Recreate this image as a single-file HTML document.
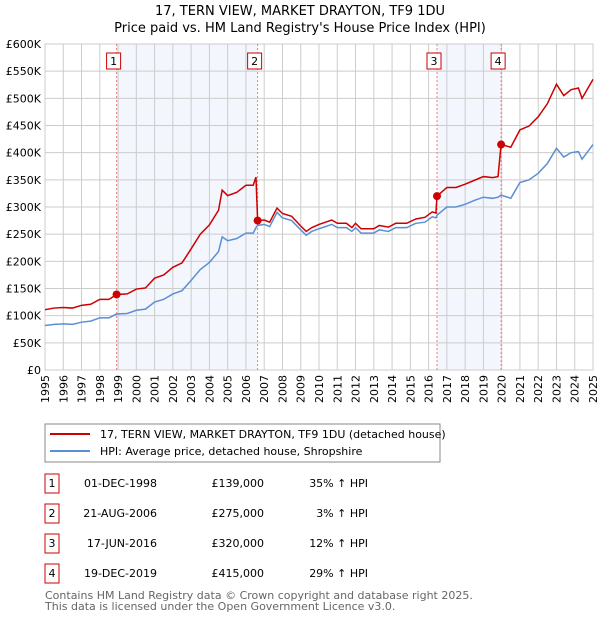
<!DOCTYPE html>
<html><head><meta charset="utf-8"><style>
body{margin:0;background:#fff;font-family:"DejaVu Sans","Liberation Sans",sans-serif;}
svg text{font-family:"DejaVu Sans","Liberation Sans",sans-serif;}
</style></head><body>
<svg id="c" width="600" height="620" xmlns="http://www.w3.org/2000/svg">
<text x="300" y="15" text-anchor="middle" font-size="13">17, TERN VIEW, MARKET DRAYTON, TF9 1DU</text>
<text x="300" y="32" text-anchor="middle" font-size="13">Price paid vs. HM Land Registry's House Price Index (HPI)</text>
<g id="plot"></g>
<rect x="45" y="424" width="395" height="38" fill="none" stroke="#888"/>
<line x1="50" y1="434" x2="90" y2="434" stroke="#cc0000" stroke-width="2"/>
<text x="100" y="438" font-size="11">17, TERN VIEW, MARKET DRAYTON, TF9 1DU (detached house)</text>
<line x1="50" y1="451" x2="90" y2="451" stroke="#5b8fd4" stroke-width="2"/>
<text x="100" y="455" font-size="11">HPI: Average price, detached house, Shropshire</text>
<g id="table" font-size="11"></g>
<text x="45" y="599" font-size="11" fill="#666">Contains HM Land Registry data © Crown copyright and database right 2025.</text>
<text x="45" y="610" font-size="11" fill="#666">This data is licensed under the Open Government Licence v3.0.</text>
</svg>
<script>
const dates=[1995.0,1995.5,1996.0,1996.5,1997.0,1997.5,1998.0,1998.5,1998.92,1999.5,2000.0,2000.5,2001.0,2001.5,2002.0,2002.5,2003.0,2003.5,2004.0,2004.5,2004.7,2005.0,2005.5,2006.0,2006.4,2006.55,2006.64,2007.0,2007.3,2007.7,2008.0,2008.5,2009.0,2009.3,2009.6,2010.0,2010.7,2011.0,2011.5,2011.8,2012.0,2012.3,2013.0,2013.3,2013.8,2014.2,2014.8,2015.3,2015.8,2016.2,2016.4,2016.46,2017.0,2017.5,2018.0,2018.5,2019.0,2019.5,2019.8,2019.97,2020.5,2021.0,2021.5,2022.0,2022.5,2023.0,2023.4,2023.8,2024.2,2024.4,2025.0];
const hpiValues=[82,84,85,84,88,90,96,96,103,104,110,112,125,130,140,146,165,185,198,218,245,238,242,252,252,262,266,268,264,290,280,275,258,248,255,260,268,262,262,255,262,252,252,258,255,262,262,270,272,282,280,285,300,300,305,312,318,316,318,322,316,345,350,362,380,408,392,400,402,388,415];
const priceValues=[111,114,115,114,119,121,130,130,139,140,149,151,169,175,189,197,223,250,267,294,331,321,327,340,340,355,275,276,272,298,288,283,265,255,262,268,276,270,270,262,270,260,260,266,263,270,270,278,281,291,289,320,336,336,342,349,356,354,356,415,410,442,449,466,490,526,505,516,519,500,535];
const saleDates=[1998.92,2006.64,2016.46,2019.97];
const salePrices=[139,275,320,415];
const saleLabels=["1","2","3","4"];
const saleDateText=["01-DEC-1998","21-AUG-2006","17-JUN-2016","19-DEC-2019"];
const salePriceText=["£139,000","£275,000","£320,000","£415,000"];
const saleHpiText=["35% ↑ HPI","3% ↑ HPI","12% ↑ HPI","29% ↑ HPI"];
const yTicks=[0,50,100,150,200,250,300,350,400,450,500,550,600];
const yTickLabels=["£0","£50K","£100K","£150K","£200K","£250K","£300K","£350K","£400K","£450K","£500K","£550K","£600K"];
const xTicks=[1995,1996,1997,1998,1999,2000,2001,2002,2003,2004,2005,2006,2007,2008,2009,2010,2011,2012,2013,2014,2015,2016,2017,2018,2019,2020,2021,2022,2023,2024,2025];

const NS="http://www.w3.org/2000/svg";
const L=45,R=593,T=44,B=370;
const xs=d=>L+(d-1995)/30*(R-L);
const ys=v=>B-v/600*(B-T);
const plot=document.getElementById('plot');
function mk(tag,attrs,parent){const e=document.createElementNS(NS,tag);for(const k in attrs)e.setAttribute(k,attrs[k]);(parent||plot).appendChild(e);return e;}

for(let i=0;i<saleDates.length;i+=2){
  const r=mk('rect',{x:xs(saleDates[i]),y:T,width:xs(saleDates[i+1])-xs(saleDates[i]),height:B-T,fill:'#f3f6fd'});
  
  
}
yTicks.forEach((v,i)=>{
  const g=mk('line',{x1:L,x2:R,y1:ys(v),y2:ys(v),stroke:'#cccccc'});
  
  
  const t=mk('text',{x:L-4,y:ys(v)+4,'text-anchor':'end','font-size':'11'});
  t.textContent=yTickLabels[i];
  
  
});
xTicks.forEach(y=>{
  const g=mk('line',{x1:xs(y),x2:xs(y),y1:T,y2:B,stroke:'#cccccc'});
  
  
  const t=mk('text',{x:0,y:0,'font-size':'11','text-anchor':'end',transform:`translate(${xs(y)+4},${B+5}) rotate(-90)`});
  t.textContent=y;
  
  
});
const ax=mk('rect',{x:L,y:T,width:R-L,height:B-T,fill:'none',stroke:'#cccccc'});


saleDates.forEach((d,i)=>{
  const l=mk('line',{x1:xs(d),x2:xs(d),y1:T,y2:B,stroke:'#e88080','stroke-dasharray':'2,2'});
  
  
  const bx=mk('rect',{x:xs(d)-10,y:53,width:14,height:16,fill:'#fff',stroke:'#cc0000'});
  
  
  const t=mk('text',{x:xs(d)-3,y:65,'text-anchor':'middle','font-size':'11'});
  t.textContent=saleLabels[i];
  
  
});
const hp=mk('polyline',{points:dates.map((d,i)=>xs(d)+','+ys(hpiValues[i])).join(' '),fill:'none',stroke:'#5b8fd4','stroke-width':'1.5'});


const pp=mk('polyline',{points:dates.map((d,i)=>xs(d)+','+ys(priceValues[i])).join(' '),fill:'none',stroke:'#cc0000','stroke-width':'1.5'});


saleDates.forEach((d,i)=>{
  const c=mk('circle',{cx:xs(d),cy:ys(salePrices[i]),r:4,fill:'#cc0000'});
  
  
});
const tb=document.getElementById('table');
saleDates.forEach((d,i)=>{
  const y=483+i*30;
  const b=mk('rect',{x:45,y:y-9,width:14,height:19,fill:'none',stroke:'#cc0000'},tb);
  
  
  const cells=[[52,saleLabels[i],'middle'],[157,saleDateText[i],'end'],[264,salePriceText[i],'end'],[368,saleHpiText[i],'end']];
  cells.forEach(c=>{
    const t=mk('text',{x:c[0],y:y+4,'text-anchor':c[2]},tb);
    t.textContent=c[1];
    
    
  });
});
</script>
</body></html>
